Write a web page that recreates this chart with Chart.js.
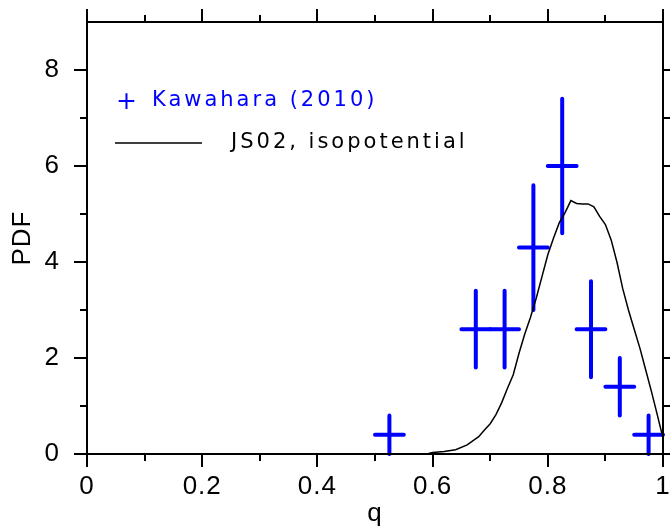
<!DOCTYPE html>
<html>
<head>
<meta charset="utf-8">
<script src="https://cdn.jsdelivr.net/npm/chart.js@4"></script>
<style>
  html, body { margin: 0; padding: 0; background: #fff; }
  #wrap { width: 670px; height: 529px; position: relative; }
</style>
</head>
<body>
<div id="wrap"><canvas id="pdfChart"></canvas></div>
<script>
// Kawahara (2010) histogram, with error bars
const kawaharaQ = [0.525, 0.675, 0.725, 0.775, 0.825, 0.875, 0.925, 0.975];
const kawaharaPdf = [0.4, 2.6, 2.6, 4.3, 6.0, 2.6, 1.4, 0.4];
const kawaharaErr = [0.4, 0.8, 0.8, 1.3, 1.4, 1.0, 0.6, 0.4];
const kawaharaHalfBin = [0.025, 0.025, 0.025, 0.025, 0.025, 0.025, 0.025, 0.025];

// JS02 isopotential curve
const js02Q = [0, 0.59, 0.60, 0.62, 0.64, 0.66, 0.68, 0.69, 0.70, 0.71, 0.72, 0.73, 0.74, 0.75,
    0.76, 0.77, 0.78, 0.79, 0.80, 0.81, 0.82, 0.83, 0.84, 0.85, 0.86, 0.87, 0.88, 0.89, 0.90,
    0.91, 0.92, 0.93, 0.94, 0.95, 0.96, 0.97, 0.98, 0.99, 1.00];
const js02Pdf = [0, 0, 0.03, 0.05, 0.09, 0.19, 0.36, 0.5, 0.63, 0.82, 1.07, 1.37, 1.65, 2.1,
    2.5, 2.85, 3.25, 3.7, 4.15, 4.5, 4.82, 5.03, 5.28, 5.22, 5.21, 5.21, 5.15, 4.95, 4.78,
    4.46, 4.0, 3.45, 3.0, 2.6, 2.2, 1.75, 1.3, 0.82, 0.33];

// axes
const xTicks = [0, 0.2, 0.4, 0.6, 0.8, 1];
const xTickLabels = ['0', '0.2', '0.4', '0.6', '0.8', '1'];
const xMinorTicks = [0.1, 0.3, 0.5, 0.7, 0.9];
const yTicks = [0, 2, 4, 6, 8];
const yTickLabels = ['0', '2', '4', '6', '8'];
const yMinorTicks = [1, 3, 5, 7];

const BLUE = '#0000ff';
const AXIS_FONT = 'Liberation Sans';
const LEGEND_FONT = 'DejaVu Sans';

// fixed plot box: the library otherwise pads for label overflow
const noScalePadding = (s) => {
    s.paddingTop = 0; s.paddingBottom = 0;
    s.paddingLeft = 0; s.paddingRight = 0;
};

// error bar crosses, placed through the chart scales
const errorBars = {
    id: 'errorBars',
    beforeDatasetsDraw(chart) {
        const { ctx, scales: { x, y } } = chart;
        ctx.save();
        ctx.strokeStyle = BLUE;
        ctx.lineWidth = 4;
        ctx.lineCap = 'round';
        kawaharaQ.forEach((q, i) => {
            const v = kawaharaPdf[i];
            const px = x.getPixelForValue(q);
            const py = y.getPixelForValue(v);
            ctx.beginPath();
            ctx.moveTo(px, y.getPixelForValue(v - kawaharaErr[i]));
            ctx.lineTo(px, y.getPixelForValue(v + kawaharaErr[i]));
            ctx.moveTo(x.getPixelForValue(q - kawaharaHalfBin[i]), py);
            ctx.lineTo(x.getPixelForValue(q + kawaharaHalfBin[i]), py);
            ctx.stroke();
        });
        ctx.restore();
    }
};

// frame with outward major/minor ticks on all four sides
const frameTicks = {
    id: 'frameTicks',
    beforeDraw(chart) {
        chart.ctx.letterSpacing = '1px';
    },
    afterDraw(chart) {
        const { ctx, chartArea: a, scales: { x, y } } = chart;
        ctx.save();
        ctx.strokeStyle = '#000';
        ctx.lineWidth = 2;
        ctx.beginPath();
        const tick = (vals, len) => {
            vals.forEach(v => {
                const px = Math.round(x.getPixelForValue(v));
                ctx.moveTo(px, a.bottom); ctx.lineTo(px, a.bottom + len);
                ctx.moveTo(px, a.top); ctx.lineTo(px, a.top - len);
            });
        };
        const ytick = (vals, len) => {
            vals.forEach(v => {
                const py = Math.round(y.getPixelForValue(v));
                ctx.moveTo(a.left, py); ctx.lineTo(a.left - len, py);
                ctx.moveTo(a.right, py); ctx.lineTo(a.right + len, py);
            });
        };
        tick(xTicks, 13);
        tick(xMinorTicks, 7);
        ytick(yTicks, 13);
        ytick(yMinorTicks, 7);
        ctx.rect(a.left, a.top, a.right - a.left, a.bottom - a.top);
        ctx.stroke();
        ctx.restore();
    }
};

// legend drawn inside the plot, top left
const insideLegend = {
    id: 'insideLegend',
    afterDraw(chart) {
        const { ctx } = chart;
        ctx.save();
        ctx.textBaseline = 'middle';
        ctx.textAlign = 'left';
        ctx.fillStyle = BLUE;
        ctx.letterSpacing = '0px';
        ctx.font = '25px "' + LEGEND_FONT + '"';
        ctx.fillText('+', 116, 102);
        ctx.letterSpacing = '3px';
        ctx.font = '21px "' + LEGEND_FONT + '"';
        ctx.fillText('Kawahara (2010)', 152, 101);
        ctx.strokeStyle = '#000';
        ctx.lineWidth = 1.5;
        ctx.beginPath();
        ctx.moveTo(115, 143);
        ctx.lineTo(202, 143);
        ctx.stroke();
        ctx.fillStyle = '#000';
        ctx.fillText('JS02, isopotential', 231, 143);
        ctx.restore();
    }
};

new Chart(document.getElementById('pdfChart'), {
    type: 'scatter',
    data: {
        datasets: [
            {
                label: 'Kawahara (2010)',
                data: kawaharaQ.map((q, i) => ({ x: q, y: kawaharaPdf[i] })),
                pointRadius: 0,
                showLine: false,
            },
            {
                label: 'JS02, isopotential',
                data: js02Q.map((q, i) => ({ x: q, y: js02Pdf[i] })),
                showLine: true,
                borderColor: '#000',
                borderWidth: 1.5,
                pointRadius: 0,
                tension: 0,
            }
        ]
    },
    options: {
        responsive: true,
        maintainAspectRatio: false,
        animation: false,
        layout: { padding: { top: 22, right: 7, left: 0, bottom: 0 } },
        plugins: { legend: { display: false }, tooltip: { enabled: false } },
        scales: {
            x: {
                type: 'linear', min: 0, max: 1,
                grid: { display: false, drawTicks: false },
                border: { display: false },
                afterBuildTicks: (s) => { s.ticks = xTicks.map(v => ({ value: v })); },
                afterFit: (s) => { s.height = 75; noScalePadding(s); },
                ticks: {
                    padding: 17,
                    color: '#000',
                    font: { family: AXIS_FONT, size: 26 },
                    callback: (v, i) => xTickLabels[i],
                },
                title: { display: true, text: 'q', color: '#000', font: { family: AXIS_FONT, size: 26 }, padding: { top: 0, bottom: 0 } }
            },
            y: {
                type: 'linear', min: 0, max: 9,
                grid: { display: false, drawTicks: false },
                border: { display: false },
                afterBuildTicks: (s) => { s.ticks = yTicks.map(v => ({ value: v })); },
                afterFit: (s) => { s.width = 87; noScalePadding(s); },
                ticks: {
                    padding: 27,
                    color: '#000',
                    font: { family: AXIS_FONT, size: 26 },
                    callback: (v, i) => yTickLabels[i],
                },
                title: { display: true, text: 'PDF', color: '#000', font: { family: AXIS_FONT, size: 26 }, padding: { top: 7, bottom: 0 } }
            }
        }
    },
    plugins: [errorBars, frameTicks, insideLegend]
});
</script>
</body>
</html>
